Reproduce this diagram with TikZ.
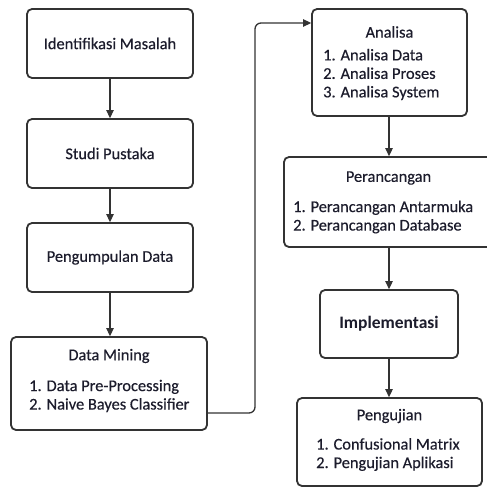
\documentclass[tikz,border=0pt]{standalone}
\usepackage{fontspec}
\setmainfont{Carlito}[FakeBold=0.35]
\newfontfamily\tebal{Carlito}
\usetikzlibrary{arrows.meta}
\definecolor{garis}{HTML}{333333}
\definecolor{teks}{HTML}{1C1C2C}
\begin{document}
\begin{tikzpicture}[x=1pt, y=-1pt, >={Triangle[length=8pt, width=7.5pt]}]
    \tikzstyle{box}=[rectangle, draw=garis, line width=1.8pt, rounded corners=5pt, fill=white, text=teks,
        font=\fontsize{16.4}{18.5}\selectfont, inner sep=0pt]
    \tikzstyle{judul}=[text=teks, font=\fontsize{16.4}{18.5}\selectfont, inner sep=0pt]
    \tikzstyle{daftar}=[text=teks, font=\fontsize{16.4}{18.5}\selectfont, align=left, anchor=west, inner sep=0pt]
    \tikzstyle{panah}=[->, draw=garis, line width=1.3pt]

    \useasboundingbox (0,0) rectangle (487,487);

    % Kolom kiri
    \node[box, minimum width=166pt, minimum height=69pt] (idm) at (110,43.5) {Identifikasi Masalah};
    \node[box, minimum width=166pt, minimum height=69pt] (sp) at (110,153.5) {Studi Pustaka};
    \node[box, minimum width=166pt, minimum height=69pt] (pd) at (110,257.5) {Pengumpulan Data};
    \node[box, minimum width=196pt, minimum height=93pt] (dm) at (109,383.5) {};
    \node[judul] (dmj) at (109,356) {Data Mining};
    \node[daftar] (dml) at (29,396) {1. Data Pre-Processing\\2. Naive Bayes Classifier};

    % Kolom kanan
    \node[box, minimum width=155pt, minimum height=107pt] (an) at (389.5,62.5) {};
    \node[judul] (anj) at (389.5,32) {Analisa};
    \node[daftar] (anl) at (323,74.5) {1. Analisa Data\\2. Analisa Proses\\3. Analisa System};
    \node[box, minimum width=209pt, minimum height=90pt] (pr) at (388.5,202) {};
    \node[judul] (prj) at (388.5,178) {Perancangan};
    \node[daftar] (prl) at (293,217) {1. Perancangan Antarmuka\\2. Perancangan Database};
    \node[box, minimum width=138pt, minimum height=68pt, font=\fontsize{17.5}{20}\selectfont\tebal\bfseries] (im) at (389,324) {Implementasi};
    \node[box, minimum width=185pt, minimum height=88pt] (pg) at (389.5,442) {};
    \node[judul] (pgj) at (389.5,416) {Pengujian};
    \node[daftar] (pgl) at (316,454.5) {1. Confusional Matrix\\2. Pengujian Aplikasi};

    % Panah
    \draw[panah] (idm) -- (sp);
    \draw[panah] (sp) -- (pd);
    \draw[panah] (pd) -- (pd |- dm.north);
    \draw[panah, rounded corners=6pt] ([yshift=-29.5pt]dm.east) -- (255,413) -- (255,23) -- ([yshift=39.5pt]an.west);
    \draw[panah] (an.south -| pr.north) ++(0.5,0) -- ([xshift=0.5pt]pr.north);
    \draw[panah] (pr.south -| im.north) -- (im.north);
    \draw[panah] (im) -- (im |- pg.north);
\end{tikzpicture}
\end{document}
